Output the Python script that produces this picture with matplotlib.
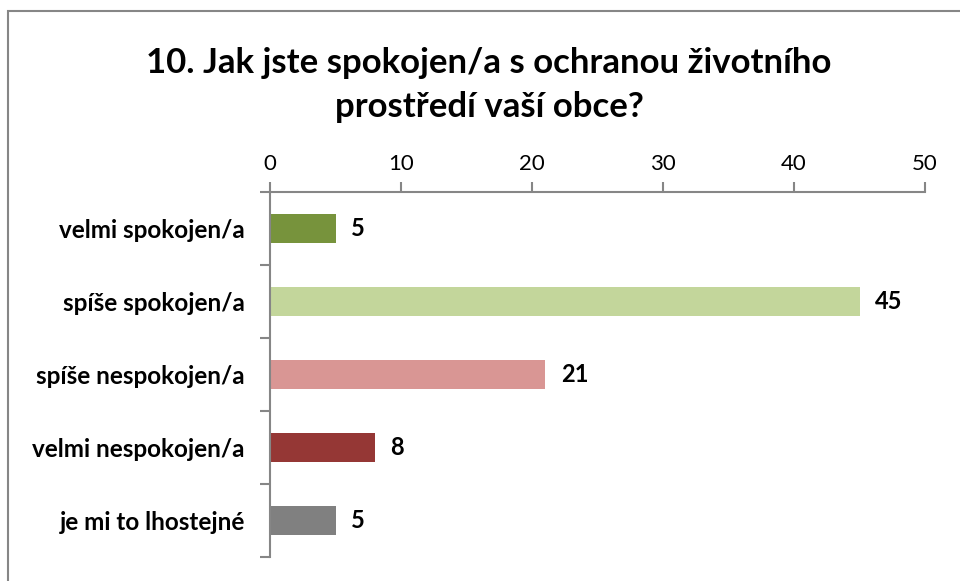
import matplotlib
matplotlib.use("Agg")
import matplotlib.pyplot as plt
from matplotlib.patches import Rectangle

categories = ["velmi spokojen/a", "spíše spokojen/a", "spíše nespokojen/a",
              "velmi nespokojen/a", "je mi to lhostejné"]
values = [5, 45, 21, 8, 5]
colors = ["#77933C", "#C3D69B", "#D99694", "#953735", "#808080"]
xticks = [0, 10, 20, 30, 40, 50]
title = "10. Jak jste spokojen/a s ochranou životního\nprostředí vaší obce?"

plt.rcParams['font.family'] = ['Lato', 'DejaVu Sans']
W, H = 960, 581
fig = plt.figure(figsize=(W/100, H/100), dpi=100)
fig.patches.append(Rectangle((8/W, -0.1), 1.2, 1.1 - 11/H + 0.0, transform=fig.transFigure,
                             fill=False, edgecolor="#868686", linewidth=1.5))
ax = fig.add_axes([270/W, 1 - 557/H, (925-270)/W, (557-192)/H])
y = list(range(len(categories)))
ax.barh(y, values, height=0.41, color=colors)
ax.set_ylim(len(categories) - 0.5, -0.5)
ax.set_xlim(0, 50)
ax.xaxis.tick_top()
ax.set_xticks(xticks)
ax.set_xticklabels([str(t) for t in xticks], fontsize=16)
ax.tick_params(axis='x', direction='out', length=7, width=1.5, color="#868686", pad=6)
ax.set_yticks([i - 0.5 for i in range(len(categories) + 1)], minor=False)
ax.set_yticklabels([])
ax.set_yticks(y, minor=True)
ax.set_yticklabels(categories, minor=True, fontsize=17.5, fontweight='bold')
ax.tick_params(axis='y', which='minor', length=0, pad=18)
ax.tick_params(axis='y', which='major', direction='out', length=7, width=1.5, color="#868686")
for s in ['right', 'bottom']:
    ax.spines[s].set_visible(False)
for s in ['left', 'top']:
    ax.spines[s].set_color("#868686")
    ax.spines[s].set_linewidth(1.5)
for i, v in enumerate(values):
    ax.text(v + 1.2, i, str(v), va='center', ha='left', fontsize=17, fontweight='bold')
fig.text(489/W, 1 - 85/H, title, ha='center', va='center', fontsize=25,
         fontweight='bold', linespacing=1.45)
fig.savefig("out.png", dpi=100)
